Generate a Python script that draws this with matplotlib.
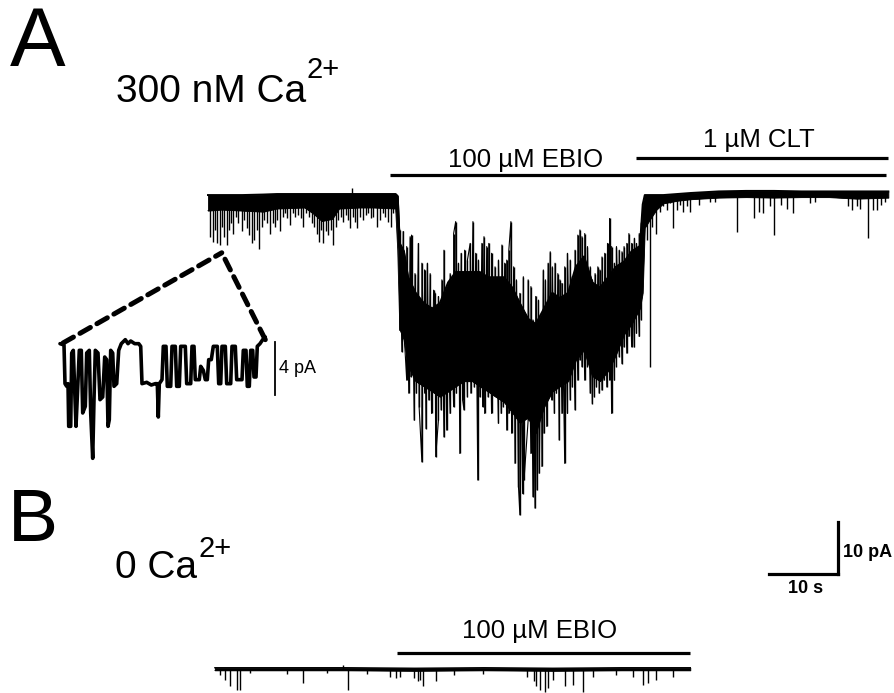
import matplotlib
matplotlib.use('Agg')
import matplotlib.pyplot as plt
import numpy as np
from matplotlib.patches import ConnectionPatch

plt.rcParams['font.family'] = ['Liberation Sans', 'DejaVu Sans']

# ---------------- data (time in s, current in pA) ----------------
# Trace A (300 nM Ca2+): dense core of the noise band
a_t = [0.0, 2.0, 5.0, 8.0, 10.0, 14.0, 15.3, 16.5, 18.0, 19.0, 22.0, 24.0, 27.2,
       27.5, 27.8, 28.4, 29.0, 30.1, 31.3, 32.5, 33.6, 34.8, 35.9, 37.1, 38.3, 39.4, 40.6,
       41.7, 42.9, 44.1, 45.2, 46.4, 47.5, 48.7, 49.9, 51.0, 52.2, 53.3, 54.5, 55.7, 56.8,
       58.0, 59.1, 60.3, 61.4, 62.6, 63.0,
       63.3, 64.0, 65.0, 66.0, 68.0, 70.0, 74.0, 78.0, 82.0, 86.0, 90.0, 94.0, 98.6]
a_top = [-0.2, -0.2, -0.2, -0.1, 0.0, 0.0, 0.0, 0.0, 0.0, 0.0, 0.0, 0.0, 0.0,
         -0.4, -9.5, -11, -16, -19, -21, -22, -21, -17, -15, -15, -15, -15, -16,
         -16, -16, -18, -21, -24, -25, -22, -19, -20, -19, -14, -12, -17, -18,
         -16, -14, -13, -11, -10, -2,
         -0.2, -0.2, -0.2, -0.2, 0.0, 0.2, 0.5, 0.6, 0.6, 0.5, 0.5, 0.5, 0.5]
a_bot = [-3.2, -3.0, -3.2, -3.4, -2.8, -2.6, -3.8, -5.2, -4.8, -2.8, -2.6, -2.6, -2.8,
         -10.8, -26, -28, -33, -36, -37, -38, -39, -38, -37, -36, -36, -37, -38,
         -39, -40, -42, -44, -43, -46, -41, -38, -37, -36, -32, -30, -35, -36,
         -34, -31, -27, -25, -22, -19,
         -6.5, -5.0, -3.0, -1.8, -1.3, -1.0, -0.7, -0.6, -0.7, -0.6, -0.6, -0.9, -0.7]
# window of the EBIO-induced response (s)
resp_window = [27.5, 63.0]
# Trace A: tips of downward excursions
a_dn_t = [0.29, 0.68, 1.01, 1.35, 1.74, 2.03, 2.32, 2.70, 2.99, 3.28, 3.67, 4.06, 4.40, 4.88,
          5.22, 5.60, 5.99, 6.33, 6.67, 7.05, 7.44, 7.78, 8.12, 8.50, 8.98, 9.37, 9.71, 10.05,
          10.43, 10.82, 11.16, 11.50, 11.88, 12.27, 12.61, 13.09, 13.43, 13.82, 14.20, 14.59,
          15.02, 15.36, 15.75, 16.04, 16.33, 16.71, 17.10, 17.44, 17.78, 18.16, 18.55, 18.89,
          19.23, 19.61, 20.00, 20.34, 20.58, 20.97, 21.35, 21.64, 22.03, 22.51, 22.90, 23.24,
          23.57, 23.96, 24.44, 24.93, 25.31, 25.70, 26.13, 26.47, 26.86, 27.25,
          27.8, 28.1, 28.5, 28.8, 29.1, 29.4, 29.9, 30.2, 30.6, 31.0, 31.4, 31.6, 32.0, 32.4,
          33.0, 33.4, 33.8, 34.2, 34.6, 35.1, 35.6, 36.0, 36.5, 36.9, 37.1, 37.6, 38.1, 38.6,
          39.1, 39.4, 39.8, 40.1, 40.6, 41.1, 41.6, 42.1, 42.5, 42.8, 43.3, 43.6, 44.0, 44.5,
          45.0, 45.2, 45.6, 45.8,
          46.4, 46.8, 47.1, 47.4, 47.7, 48.0, 48.4, 48.7, 49.1, 49.4, 49.8, 50.2, 50.5, 50.9,
          51.3, 51.7, 52.1, 52.5, 52.8, 53.2, 53.6, 53.9, 54.2, 54.6, 55.0, 55.4, 55.7, 56.0,
          56.3, 56.7, 57.1, 57.4, 57.8, 58.2, 58.5, 58.9, 59.2, 59.6, 60.0, 60.3, 60.7, 61.0,
          61.4, 61.8, 62.1, 62.5, 62.8,
          63.1, 63.6, 64.1, 64.4, 64.9, 65.5, 66.0, 66.5, 66.9, 67.4, 67.9, 68.4, 68.9, 69.4,
          69.9, 71.1, 72.8, 73.5, 76.6, 79.1, 79.8, 80.5, 81.4, 82.0, 83.1, 83.9, 84.8, 87.2,
          88.0, 92.8, 93.3, 94.0, 94.5, 95.6, 96.4, 96.9, 97.6, 98.1]
a_dn_i = [-8.2, -9.2, -6.9, -9.5, -9.8, -6.3, -8.2, -9.8, -6.9, -5.6, -7.6, -4.4, -5.6, -7.2,
          -5.0, -6.6, -7.9, -9.5, -8.9, -6.9, -10.5, -6.3, -5.0, -5.6, -7.6, -5.6, -6.3, -5.0,
          -7.2, -4.4, -3.7, -4.7, -6.0, -3.7, -4.4, -4.0, -4.7, -6.3, -3.7, -4.4,
          -5.6, -6.3, -7.6, -9.2, -6.9, -9.5, -7.2, -7.9, -6.9, -9.8, -6.3, -5.0,
          -4.4, -5.3, -4.0, -5.0, -6.6, -4.4, -5.3, -6.6, -4.4, -5.0, -4.0, -3.7,
          -4.7, -4.4, -6.3, -5.0, -3.7, -4.4, -5.3, -6.3, -3.7, -3.4,
          -26.2, -30.3, -28.7, -35.8, -38.3, -35.1, -43.5, -38.3, -40.9, -51.5, -38.3, -45.1,
          -39.6, -42.2, -50.5, -43.5, -41.5, -46.7, -45.4, -42.2, -40.9, -38.3, -49.9, -39.6,
          -41.5, -39.0, -38.3, -37.1, -55.0, -39.0, -40.9, -42.2, -39.0, -42.2, -38.3, -44.1,
          -42.2, -40.9, -45.4, -42.2, -46.0, -51.8, -56.3, -61.7, -57.6, -55.0,
          -43.5, -49.9, -58.2, -60.4, -56.9, -53.7, -52.4, -46.0, -44.7, -37.1, -39.6, -42.2,
          -38.3, -47.3, -42.2, -51.8, -42.2, -39.6, -37.1, -41.5, -35.8, -31.9, -33.2, -35.8,
          -33.2, -38.3, -40.3, -39.0, -37.1, -38.3, -37.7, -35.8, -37.1, -35.8, -42.2, -35.8,
          -33.2, -31.3, -32.6, -29.4, -30.6, -27.4, -29.4, -29.4, -26.8, -27.4, -24.2,
          -6.9, -8.9, -33.3, -6.3, -7.6, -3.4, -2.4, -3.1, -1.8, -6.6, -3.1, -2.1, -3.4, -2.4,
          -3.4, -2.1, -1.5, -1.5, -7.3, -4.7, -3.4, -3.7, -2.4, -7.9, -2.1, -2.8, -3.7, -1.8,
          -1.5, -2.4, -3.1, -2.4, -2.8, -8.5, -3.1, -3.1, -2.1, -1.5]
# Trace A: tips of upward excursions
a_up_t = [20.9,
          27.8, 28.3, 28.8, 29.3, 29.5, 30.0, 30.5, 31.0, 31.4, 31.8, 32.2, 32.7, 32.9, 33.4,
          33.9, 34.2, 34.6, 35.1, 35.6, 35.9, 36.3, 36.7, 37.2, 37.6, 38.0, 38.4, 38.8, 39.2,
          39.7, 40.0, 40.4, 40.7, 41.1, 41.6, 42.1, 42.6, 43.0, 43.3, 43.6, 43.9, 44.3, 44.7,
          45.2, 45.7,
          46.4, 46.8, 47.1, 47.5, 47.9, 48.3, 48.6, 48.9, 49.3, 49.6, 49.9, 50.3, 50.7, 51.0,
          51.3, 51.7, 52.1, 52.5, 52.8, 53.2, 53.6, 53.9, 54.2, 54.6, 55.0, 55.4, 55.7, 56.1,
          56.5, 56.8, 57.1, 57.5, 57.9, 58.2, 58.5, 58.9, 59.2, 59.6, 60.0, 60.3, 60.7, 61.0,
          61.4, 61.8, 62.1, 62.5, 62.8]
a_up_i = [1.2,
          -6.9, -7.2, -10.1, -8.2, -7.9, -15.3, -9.5, -13.3, -14.6, -13.3, -15.3, -18.5, -19.1,
          -19.7, -16.5, -10.8, -18.5, -15.3, -7.6, -5.3, -13.3, -11.4, -10.8, -12.7, -9.5, -5.3,
          -11.4, -12.7, -9.5, -8.2, -10.1, -9.5, -11.4, -14.0, -12.7, -9.8, -13.3, -12.7, -10.8,
          -5.3, -14.0, -16.5, -19.1, -15.9,
          -16.5, -17.8, -24.2, -19.7, -20.4, -24.2, -14.6, -16.5, -13.3, -11.1, -14.0, -13.3,
          -15.3, -16.5, -17.2, -14.0, -11.4, -12.7, -15.9, -10.8, -7.9, -6.9, -8.2, -7.6, -10.1,
          -14.0, -16.5, -15.3, -14.0, -14.6, -12.1, -11.4, -9.5, -4.7, -10.1, -13.3, -10.1,
          -10.8, -11.1, -10.1, -9.5, -7.6, -9.5, -8.5, -9.5, -7.6, -5.6]

# Trace B (0 Ca2+), current relative to its own baseline
b_t = [1.0, 10.0, 20.0, 30.0, 40.0, 50.0, 60.0, 69.9]
b_top = [0.2, 0.2, 0.2, 0.1, 0.2, 0.1, 0.2, 0.2]
b_bot = [-0.3, -0.3, -0.3, -0.4, -0.3, -0.4, -0.3, -0.3]
b_dn_t = [1.7, 2.5, 3.2, 4.2, 4.6, 6.1, 11.4, 13.8, 17.2, 20.3, 23.0, 26.4, 27.3, 27.8, 29.8,
          30.5, 30.7, 31.2, 33.1, 35.6, 39.9, 46.2, 47.2, 47.6, 48.1, 48.8, 49.3, 50.0, 51.7,
          52.9, 54.4, 55.8, 59.2, 61.6, 63.1, 63.8, 65.0, 67.4]
b_dn_i = [-1.2, -2.1, -3.4, -4.0, -4.0, -0.8, -1.0, -2.8, -0.8, -4.0, -1.0, -1.5, -1.8, -1.5,
          -1.8, -2.4, -2.1, -3.4, -2.4, -1.2, -1.0, -1.5, -2.4, -3.4, -4.0, -4.4, -3.7, -2.1,
          -3.4, -3.1, -4.4, -1.5, -1.2, -1.5, -3.1, -2.8, -2.1, -1.5]
b_up_t = [19.6]
b_up_i = [0.8]

# Inset: expanded single-channel record (time in ms, current in pA)
inset_t = [0, 4, 5, 6.7, 8, 8.7, 10.7, 11.7, 13.3, 14.7, 16, 17.3, 19.3, 21.3, 22.7, 25.3, 26.7,
           29.3, 30.7, 32.7, 34, 35.3, 38, 40, 42.7, 44.7, 46.7, 48, 49.3, 50.7, 52.7, 54, 56.7,
           58.7, 61.3, 65.3, 68, 70.7, 74.7, 78.7, 80.7, 82, 86.7, 91.3, 95.3, 97.3, 98.3, 99.3,
           102, 103.3, 106, 107.3, 110.7, 112, 115.3, 116.7, 119.3, 120.7, 125.3, 126.7, 130.7,
           132, 134, 135.3, 139.3, 140.7, 143.3, 145.3, 147.3, 148.7, 151.3, 153.3, 157.3, 158.7,
           160.7, 162, 165.3, 166.7, 170.7, 172, 175.3, 176.7, 182, 183.3, 186, 187.3, 189.3,
           190.7, 192.7, 194, 196, 197.3, 200, 202.7, 205.3]
inset_i = [0.1, 0.0, -2.9, -3.1, -2.9, -6.1, -6.1, -0.6, -0.4, -3.4, -6.1, -3.9, -0.4, -0.4, -5.1,
           -4.6, -0.6, -0.4, -5.1, -8.5, -4.1, -0.4, -0.6, -4.1, -3.9, -0.9, -1.1, -6.1, -5.6, -0.4,
           -0.6, -3.1, -2.9, -0.4, 0.1, 0.4, 0.1, 0.3, 0.1, 0.1, -0.1, -2.9, -2.8, -3.0, -2.9, -2.9,
           -5.4, -2.9, -2.6, -0.1, -0.1, -3.1, -3.1, -0.1, -0.1, -3.1, -3.1, -0.1, -0.1, -2.9, -2.9,
           -0.1, -0.1, -2.6, -2.6, -1.6, -1.9, -2.6, -2.6, -1.1, -1.1, -0.1, -0.1, -2.9, -2.9, -0.1,
           -0.1, -2.9, -2.9, -0.1, -0.1, -2.6, -2.6, -0.4, -0.4, -3.1, -3.1, -0.4, -0.4, -2.4, -2.4,
           -0.1, 0.1, 0.4, 0.6]

# Drug application periods (s)
a_ebio = [26.4, 98.3]
a_clt = [62.0, 98.6]
b_ebio = [27.4, 69.9]
drug_labels = ['100 µM EBIO', '1 µM CLT', '100 µM EBIO']
panel_labels = ['A', 'B']
conditions = ['300 nM Ca', '0 Ca']
scale_s = 10
scale_pA = 10
inset_scale_pA = 4

# ---------------- layout ----------------
B_OFF = -91.3          # vertical offset of trace B (pA)
W, H = 894, 693

fig = plt.figure(figsize=(W / 100, H / 100), dpi=100)
ax = fig.add_axes([0, 0, 1, 1])
ax.set_xlim(-30.14, 99.42)
ax.set_ylim(-95.96, 37.31)
ax.axis('off')


def draw_trace(t, top, bot, dn_t, dn_i, up_t, up_i, off=0.0, window=None, edge_lw=0.9):
    t = np.asarray(t, float)
    top = np.asarray(top, float) + off
    bot = np.asarray(bot, float) + off
    dn_t = np.asarray(dn_t, float)
    up_t = np.asarray(up_t, float)
    dn_i = np.asarray(dn_i, float) + off
    up_i = np.asarray(up_i, float) + off
    ax.fill_between(t, bot, top, color='black', lw=0.6)
    ax.plot(t, top, color='black', lw=edge_lw)
    ax.plot(t, bot, color='black', lw=0.6)
    mid = (top + bot) / 2
    ax.vlines(dn_t, dn_i, np.interp(dn_t, t, mid), color='black', lw=1.0)
    ax.vlines(up_t, up_i, np.interp(up_t, t, mid), color='black', lw=1.0)
    if window is not None:
        # noisy record: join successive excursion tips inside the response window
        zt = np.concatenate([dn_t, up_t])
        zi = np.concatenate([dn_i, up_i])
        m = (zt >= window[0]) & (zt <= window[1])
        order = np.argsort(zt[m], kind='stable')
        ax.plot(zt[m][order], zi[m][order], color='black', lw=0.8)


draw_trace(a_t, a_top, a_bot, a_dn_t, a_dn_i, a_up_t, a_up_i, window=resp_window, edge_lw=1.4)
draw_trace(b_t, b_top, b_bot, b_dn_t, b_dn_i, b_up_t, b_up_i, off=B_OFF, edge_lw=1.0)

# drug bars
ax.plot(a_ebio, [3.7, 3.7], color='black', lw=2.3, solid_capstyle='butt')
ax.plot(a_clt, [6.9, 6.9], color='black', lw=2.3, solid_capstyle='butt')
ax.plot(b_ebio, [3.1 + B_OFF] * 2, color='black', lw=2.3, solid_capstyle='butt')
ax.text(46.0, 5.2, drug_labels[0], ha='center', va='baseline', fontsize=18.5)
ax.text(79.9, 9.0, drug_labels[1], ha='center', va='baseline', fontsize=18.5)
ax.text(48.1, 6.0 + B_OFF, drug_labels[2], ha='center', va='baseline', fontsize=18.5)

# scale bar
sx0, sy0 = 81.3, -73.1
ax.plot([sx0, sx0 + scale_s], [sy0, sy0], color='black', lw=2.3, solid_capstyle='projecting')
ax.plot([sx0 + scale_s, sx0 + scale_s], [sy0, sy0 + scale_pA], color='black', lw=2.3,
        solid_capstyle='projecting')
ax.text(sx0 + scale_s + 0.7, sy0 + scale_pA * 0.42, f'{scale_pA} pA', ha='left', va='center',
        fontsize=13, fontweight='bold')
ax.text(sx0 + scale_s / 2 + 0.3, sy0 - 1.2, f'{scale_s} s', ha='center', va='top',
        fontsize=13, fontweight='bold')


def fpx(x, y):
    return x / W, 1 - y / H


# panel labels and conditions
fig.text(*fpx(10, 66), panel_labels[0], fontsize=60, ha='left', va='baseline')
fig.text(*fpx(8, 541), panel_labels[1], fontsize=54, ha='left', va='baseline')
fig.text(*fpx(116, 102), conditions[0], fontsize=28, ha='left', va='baseline')
fig.text(*fpx(306, 78), '2+', fontsize=21, ha='left', va='baseline')
fig.text(*fpx(115, 578), conditions[1], fontsize=28, ha='left', va='baseline')
fig.text(*fpx(198, 557), '2+', fontsize=21, ha='left', va='baseline')

# inset
iax = fig.add_axes([40 / W, 1 - 470 / H, 260 / W, 150 / H])
iax.set_xlim(-20, 240)
iax.set_ylim(-9.375, 1.875)
iax.axis('off')
iax.plot(inset_t, inset_i, color='black', lw=2.6, solid_joinstyle='round',
         solid_capstyle='round')
iax.plot([215, 215], [0.25, 0.25 - inset_scale_pA], color='black', lw=1.3)
iax.text(219, 0.25 - inset_scale_pA / 2, f'{inset_scale_pA} pA', ha='left', va='center',
         fontsize=13)

apex = (2.0, -11.3)
for p in [(inset_t[0] + 3, 0.15), (inset_t[-1], 0.4)]:
    con = ConnectionPatch(xyA=p, coordsA=iax.transData, xyB=apex, coordsB=ax.transData,
                          color='black', lw=3.6, linestyle=(0, (2.4, 1.5)))
    fig.add_artist(con)

fig.savefig('out.png', dpi=100)
